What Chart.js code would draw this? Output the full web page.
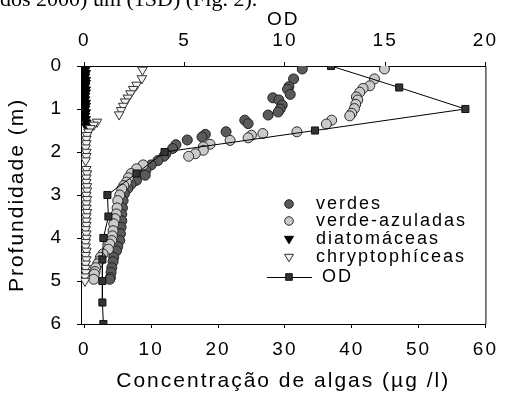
<!DOCTYPE html>
<html>
<head>
<meta charset="utf-8">
<script src="https://cdn.jsdelivr.net/npm/chart.js@4.4.1/dist/chart.umd.min.js"></script>
<style>
  body { margin: 0; background: #fff; }
  #wrap { position: relative; width: 508px; height: 394px; overflow: hidden; }
  #chart { position: absolute; left: 0; top: 0; }
  #note {
    position: absolute; left: 0; top: -12px; white-space: nowrap;
    font: 22px/22px "Liberation Serif", serif; color: #000;
  }
</style>
</head>
<body>
<div id="wrap">
  <canvas id="chart" width="508" height="394"></canvas>
  <div id="note">dos 2000) um (1SD) (Fig. 2).</div>
</div>
<script>
// profundidade (m) e concentração (µg/l)
const verdesDepth = [0.07, 0.3, 0.48, 0.54, 0.66, 0.74, 0.79, 0.91, 1.0, 1.07, 1.14, 1.26, 1.34, 1.53, 1.59,
    1.65, 1.72, 1.83, 1.92, 2.04, 2.1, 2.2, 2.3, 2.43, 2.54, 2.66, 2.75, 2.85, 2.97, 3.13,
    3.3, 3.45, 3.6, 3.75, 3.9, 4.06, 4.2, 4.3, 4.45, 4.55, 4.69, 4.8, 4.92, 4.96];
const verdesVal = [32.6, 31.3, 30.6, 30.4, 30.8, 28.2, 29.1, 29.6, 29.3, 29.0, 27.5, 24.0, 24.5, 21.2, 18.1,
    17.6, 15.4, 13.7, 13.2, 12.2, 11.9, 11.0, 10.0, 9.2, 9.1, 7.8, 7.0, 6.5, 6.0, 5.8,
    5.7, 5.6, 5.6, 5.5, 5.4, 5.3, 5.0, 4.8, 4.4, 4.3, 4.1, 4.0, 3.9, 3.8];

const azuisDepth = [0.07, 0.3, 0.46, 0.52, 0.61, 0.72, 0.79, 0.89, 0.99, 1.1, 1.16, 1.26, 1.35, 1.53, 1.57,
    1.61, 1.67, 1.73, 1.82, 1.88, 1.96, 2.04, 2.1, 2.3, 2.39, 2.5, 2.6, 2.7, 2.78, 2.86,
    3.0, 3.13, 3.3, 3.44, 3.55, 3.67, 3.83, 3.95, 4.06, 4.14, 4.26, 4.37, 4.45, 4.53, 4.6,
    4.69, 4.78, 4.84, 4.96];
const azuisVal = [44.9, 43.4, 42.7, 41.7, 41.2, 40.7, 40.9, 40.6, 40.4, 40.0, 39.7, 37.0, 36.2, 31.8, 26.7,
    25.0, 24.5, 21.8, 18.8, 17.8, 17.8, 16.6, 15.6, 8.8, 7.8, 7.0, 6.6, 6.3, 5.9, 5.6,
    5.3, 5.0, 4.9, 4.8, 4.6, 4.4, 4.3, 4.2, 4.1, 3.8, 3.6, 2.8, 2.4, 2.3, 2.0,
    1.7, 1.6, 1.5, 1.4];

const diatDepth = [0.02, 0.1, 0.17, 0.25, 0.33, 0.4, 0.47, 0.55, 0.62, 0.7, 0.78, 0.86, 0.93, 1.0, 1.08,
    1.16, 1.24, 1.32, 1.4];
const diatVal = [0.1, 0.1, 0.2, 0.1, 0.2, 0.2, 0.1, 0.2, 0.2, 0.1, 0.1, 0.2, 0.2, 0.1, 0.2,
    0.1, 0.2, 0.3, 0.3];

const cryptDepth = [0.09, 0.29, 0.44, 0.54, 0.64, 0.74, 0.83, 0.93, 1.03, 1.13, 1.3, 1.37, 1.45, 1.53, 1.61,
    1.7, 1.8, 1.9, 2.0, 2.1, 2.2, 2.4, 2.5, 2.6, 2.7, 2.8, 2.9, 3.0, 3.1, 3.2,
    3.3, 3.4, 3.5, 3.6, 3.7, 3.8, 3.9, 4.0, 4.1, 4.2, 4.3, 4.4, 4.5, 4.6, 4.7,
    4.8, 4.9, 5.0];
const cryptVal = [8.7, 8.6, 7.8, 7.3, 6.9, 6.5, 6.1, 5.8, 5.5, 5.2, 1.9, 1.4, 0.9, 0.6, 0.4,
    0.3, 0.3, 0.2, 0.3, 0.3, 0.2, 0.3, 0.4, 0.3, 0.3, 0.4, 0.4, 0.3, 0.4, 0.3,
    0.3, 0.4, 0.3, 0.3, 0.3, 0.2, 0.3, 0.3, 0.2, 0.2, 0.3, 0.2, 0.3, 0.2, 0.2,
    0.2, 0.1, 0.1];

// oxigénio dissolvido, eixo de cima
const odDepth = [0, 0.5, 1, 1.5, 2, 2.5, 3, 3.5, 4, 4.5, 5, 5.5, 6];
const odVal = [12.3, 15.7, 19.0, 11.5, 4.0, 2.6, 1.15, 1.2, 0.95, 0.9, 0.9, 0.9, 0.95];

const algTicks = [0, 10, 20, 30, 40, 50, 60];
const odTicks = [0, 5, 10, 15, 20];
const depthTicks = [0, 1, 2, 3, 4, 5, 6];

const FONT = '"Liberation Sans", Arial, sans-serif';
const pts = (xs, ys) => xs.map((d, i) => ({ x: ys[i], y: d }));

const spacing = {
    id: 'spacing',
    beforeUpdate(chart) { chart.ctx.letterSpacing = '2px'; },
    beforeDraw(chart) { chart.ctx.letterSpacing = '2px'; },
};

const frame = {
    id: 'frame',
    afterDraw(chart) {
        const { ctx, chartArea: a } = chart;
        ctx.save();
        ctx.strokeStyle = '#000';
        ctx.lineWidth = 1;
        ctx.beginPath();
        ctx.moveTo(a.right + 0.5, a.top);
        ctx.lineTo(a.right + 0.5, a.bottom);
        ctx.stroke();
        ctx.restore();
    },
};

// legenda dentro da área do gráfico
const legendBox = {
    id: 'legendBox',
    afterDraw(chart) {
        const ctx = chart.ctx;
        const ds = chart.data.datasets;
        const rows = [204, 221, 239, 257, 277];
        const mx = 289;
        ctx.save();
        ctx.letterSpacing = '2px';
        ctx.font = '18px ' + FONT;
        ctx.textBaseline = 'middle';
        ds.forEach((d, i) => {
            const y = rows[i];
            ctx.fillStyle = d.pointBackgroundColor;
            ctx.strokeStyle = d.pointBorderColor;
            ctx.lineWidth = 1;
            ctx.beginPath();
            if (d.pointStyle === 'circle') {
                ctx.arc(mx, y, 4.3, 0, Math.PI * 2);
            } else if (d.pointStyle === 'triangle') {
                ctx.moveTo(mx - 4.5, y - 2.7);
                ctx.lineTo(mx + 4.5, y - 2.7);
                ctx.lineTo(mx, y + 4.8);
                ctx.closePath();
            } else {
                ctx.strokeStyle = '#000';
                ctx.moveTo(267, y + 0.5);
                ctx.lineTo(312, y + 0.5);
                ctx.stroke();
                ctx.beginPath();
                ctx.strokeStyle = d.pointBorderColor;
                ctx.rect(mx - 3.3, y - 3.3, 6.6, 6.6);
            }
            ctx.fill();
            ctx.stroke();
            ctx.fillStyle = '#000';
            ctx.fillText(d.label, d.pointStyle === 'rect' ? 322 : 316, y);
        });
        ctx.restore();
    },
};

const tickGrid = { drawOnChartArea: false, color: '#000', tickLength: 4, lineWidth: 1 };
const axisBorder = { color: '#000', width: 1 };
const keepTicks = (list) => (scale) => {
    scale.ticks = list.map((v) => ({ value: v }));
};

new Chart(document.getElementById('chart'), {
    type: 'scatter',
    data: {
        datasets: [
            {
                label: 'verdes', data: pts(verdesDepth, verdesVal), order: 4,
                pointStyle: 'circle', pointRadius: 5, pointBorderWidth: 1,
                pointBackgroundColor: '#5a5a5a', pointBorderColor: '#222',
            },
            {
                label: 'verde-azuladas', data: pts(azuisDepth, azuisVal), order: 3,
                pointStyle: 'circle', pointRadius: 5, pointBorderWidth: 1,
                pointBackgroundColor: '#cacaca', pointBorderColor: '#2a2a2a',
            },
            {
                label: 'diatomáceas', data: pts(diatDepth, diatVal), order: 2,
                pointStyle: 'triangle', rotation: 180, pointRadius: 5.5, pointBorderWidth: 1,
                pointBackgroundColor: '#000', pointBorderColor: '#000',
            },
            {
                label: 'chryptophíceas', data: pts(cryptDepth, cryptVal), order: 1,
                pointStyle: 'triangle', rotation: 180, pointRadius: 5.5, pointBorderWidth: 1,
                pointBackgroundColor: '#f2f2f2', pointBorderColor: '#333',
            },
            {
                label: 'OD', data: pts(odDepth, odVal), order: 0, xAxisID: 'x2',
                showLine: true, borderColor: '#000', borderWidth: 1,
                pointStyle: 'rect', pointRadius: 5, pointBorderWidth: 1,
                pointBackgroundColor: '#333', pointBorderColor: '#111',
            },
        ],
    },
    options: {
        responsive: false,
        animation: false,
        devicePixelRatio: 1,
        layout: { padding: { left: 0, right: 17, top: 0, bottom: 0 } },
        plugins: { legend: { display: false }, tooltip: { enabled: false } },
        scales: {
            x: {
                type: 'linear', position: 'bottom', min: -0.5, max: 60,
                afterBuildTicks: keepTicks(algTicks),
                afterFit: (s) => { s.height = 70; },
                grid: tickGrid, border: axisBorder,
                ticks: { color: '#000', padding: 10, font: { family: FONT, size: 19 } },
                title: {
                    display: true, text: 'Concentração de algas (µg /l)', color: '#000',
                    font: { family: FONT, size: 21 }, padding: { top: 0, bottom: 0 },
                },
            },
            x2: {
                type: 'linear', position: 'top', min: -0.5 / 3, max: 20,
                afterBuildTicks: keepTicks(odTicks),
                afterFit: (s) => { s.height = 66; },
                grid: tickGrid, border: axisBorder,
                ticks: { color: '#000', padding: 10, font: { family: FONT, size: 19 } },
                title: {
                    display: true, text: 'OD', color: '#000',
                    font: { family: FONT, size: 19 }, padding: { top: 8, bottom: 0 },
                },
            },
            y: {
                type: 'linear', position: 'left', min: 0, max: 6, reverse: true,
                afterBuildTicks: (s) => {
                    s.ticks = depthTicks.flatMap((v, i) => i < depthTicks.length - 1
                        ? [{ value: v }, { value: v + 0.5 }] : [{ value: v }]);
                },
                afterFit: (s) => { s.width = 81; },
                grid: tickGrid, border: axisBorder,
                ticks: {
                    color: '#000', padding: 14, font: { family: FONT, size: 19 },
                    callback: (v) => (depthTicks.includes(v) ? String(v) : ''),
                },
                title: {
                    display: true, text: 'Profundidade (m)', color: '#000',
                    font: { family: FONT, size: 21 }, padding: { top: 5, bottom: 0 },
                },
            },
        },
    },
    plugins: [spacing, frame, legendBox],
});
</script>
</body>
</html>
